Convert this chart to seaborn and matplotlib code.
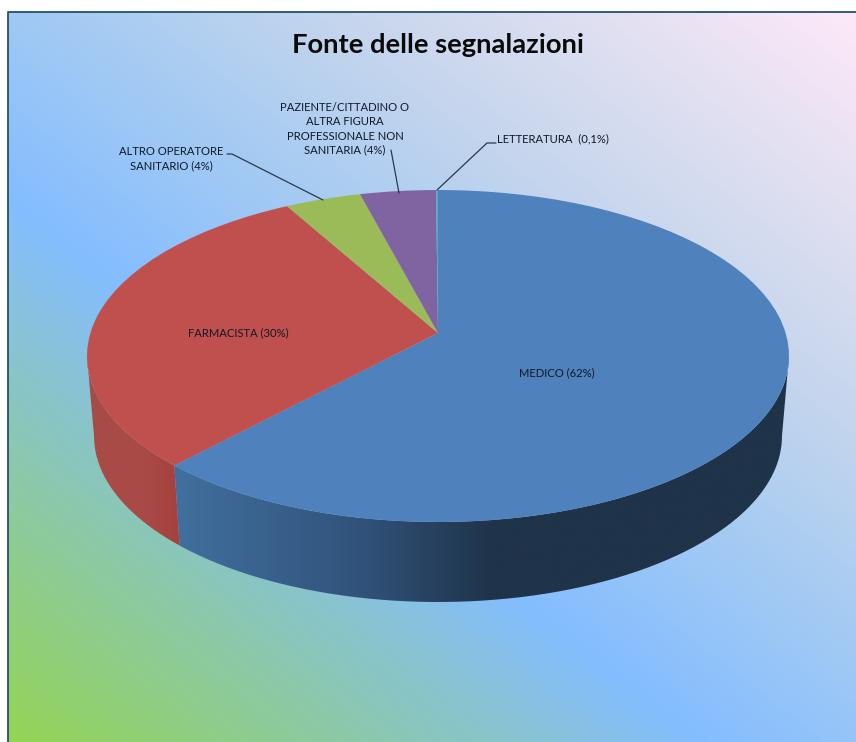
import numpy as np
import matplotlib
matplotlib.use("Agg")
import matplotlib.pyplot as plt
import seaborn as sns
from matplotlib.colors import LinearSegmentedColormap
from matplotlib.path import Path
from matplotlib.transforms import Transform

# data
title = "Fonte delle segnalazioni"
categories = ["MEDICO", "FARMACISTA", "ALTRO OPERATORE SANITARIO",
              "PAZIENTE/CITTADINO O ALTRA FIGURA PROFESSIONALE NON SANITARIA",
              "LETTERATURA"]
values = [62, 30, 4, 4, 0.1]
label_medico = "MEDICO (62%)"
label_farm = "FARMACISTA (30%)"
label_altro = "ALTRO OPERATORE\nSANITARIO (4%)"
label_paz = "PAZIENTE/CITTADINO O\nALTRA FIGURA\nPROFESSIONALE NON\nSANITARIA (4%)"
label_lett = "LETTERATURA  (0,1%)"
top_colors = ["#4f81bd", "#c0504d", "#9bbb59", "#8064a2", "#4bacc6"]

sns.set_theme(style="white")
plt.rcParams["font.family"] = ["Lato", "DejaVu Sans"]

W, H = 856, 742
fig = plt.figure(figsize=(W / 100, H / 100), dpi=100, facecolor="white")
ax = fig.add_axes([0, 0, 1, 1])

# background gradient
X0, Y0 = 8, 12
xx, yy = np.meshgrid(np.linspace(X0, W, 212), np.linspace(Y0, H, 182))
t = ((xx - X0) * 542 + (H - yy) * 692) / (848 * 542 + 730 * 692)
bg = LinearSegmentedColormap.from_list(
    "bg", [(0, "#94d455"), (0.39, "#84bdff"), (0.57, "#a8ccf2"),
           (0.70, "#c4d5ed"), (0.84, "#dedff1"), (1, "#fde8f8")])
ax.imshow(t, cmap=bg, vmin=0, vmax=1, extent=(X0, W, H, Y0), aspect="auto",
          zorder=0, interpolation="bilinear")
ax.plot([X0, X0, W], [H, Y0, Y0], color="#24506a", lw=1.3, zorder=1,
        solid_capstyle="butt")


class Persp(Transform):
    """Tilted-disc projection of the unit pie into figure pixels."""
    input_dims = output_dims = 2
    is_affine = False
    CX, CY, A, B, K = 438.0, 333.0, 162.8, 347.6, 0.1386

    def transform_non_affine(self, xy):
        xy = np.asarray(xy, float)
        w = 1 + self.K * xy[:, 1]
        return np.column_stack([self.CX + self.B * xy[:, 0] / w,
                                self.CY - self.A * xy[:, 1] / w])


persp = Persp()
DEPTH = 80.0
BOTTOM_SHRINK = 0.98

# pie top face
wedges, _ = ax.pie(values, startangle=90, counterclock=False,
                   colors=top_colors, radius=1, center=(0, 0),
                   wedgeprops=dict(linewidth=0))
for w in wedges:
    w.set_transform(persp + ax.transData)
    w.set_zorder(5)
ax.set_aspect("auto")
ax.set_frame_on(False)

# side walls derived from the pie's slice angles
fracs = np.array(values) / np.sum(values)
seam = 90 - 360 * fracs[0]
edge = np.degrees(np.arcsin(-Persp.K))  # where the disc is widest


def wall(a, b):
    th = np.radians(np.linspace(a, b, 200))
    top = persp.transform_non_affine(np.column_stack([np.cos(th), np.sin(th)]))
    bot = top.copy()
    bot[:, 0] = Persp.CX + (bot[:, 0] - Persp.CX) * BOTTOM_SHRINK
    bot[:, 1] += DEPTH
    return Path(np.vstack([top, bot[::-1], top[:1]]))


def draw_wall(a, b, cmap, x0, x1):
    g = np.linspace(0, 1, 256)[None, :]
    im = ax.imshow(g, cmap=cmap, extent=(x0, x1, H, 0), aspect="auto", zorder=3)
    im.set_clip_path(wall(a, b), transform=ax.transData)


blue_side = LinearSegmentedColormap.from_list(
    "bs", [(0, "#41709f"), (0.3, "#31537b"), (0.52, "#1f3349"), (1, "#1f3349")])
red_side = LinearSegmentedColormap.from_list(
    "rs", [(0, "#a84b47"), (0.6, "#aa4a46"), (1, "#a5403d")])
draw_wall(seam, edge, blue_side, 172, 792)
draw_wall(-180 - edge, seam, red_side, 84, 182)

# texts
txt = "#101828"
ax.text(438, 45, title, ha="center", va="center", fontsize=19.7,
        fontweight="bold", color="#0a0a0a", zorder=8)
small = dict(fontsize=8.1, color=txt, zorder=8, ha="center", va="center",
             linespacing=1.35)
ax.text(556.5, 373, label_medico, **small)
ax.text(238, 333, label_farm, **small)
ax.text(171, 159, label_altro, **small)
ax.text(345, 129, label_paz, **small)
ax.text(497, 139, label_lett, fontsize=8.1, color=txt, zorder=8,
        ha="left", va="center")

# leader lines
lead = dict(color="#2a3a4a", lw=0.9, zorder=6)
ax.plot([227, 232, 323], [154, 154, 200], **lead)
ax.plot([391, 399], [150, 193], **lead)
ax.plot([496, 487, 437], [143, 143, 190], **lead)

ax.set_xlim(0, W)
ax.set_ylim(H, 0)
ax.set_xticks([])
ax.set_yticks([])
fig.savefig("out.png", dpi=100, facecolor="white")
